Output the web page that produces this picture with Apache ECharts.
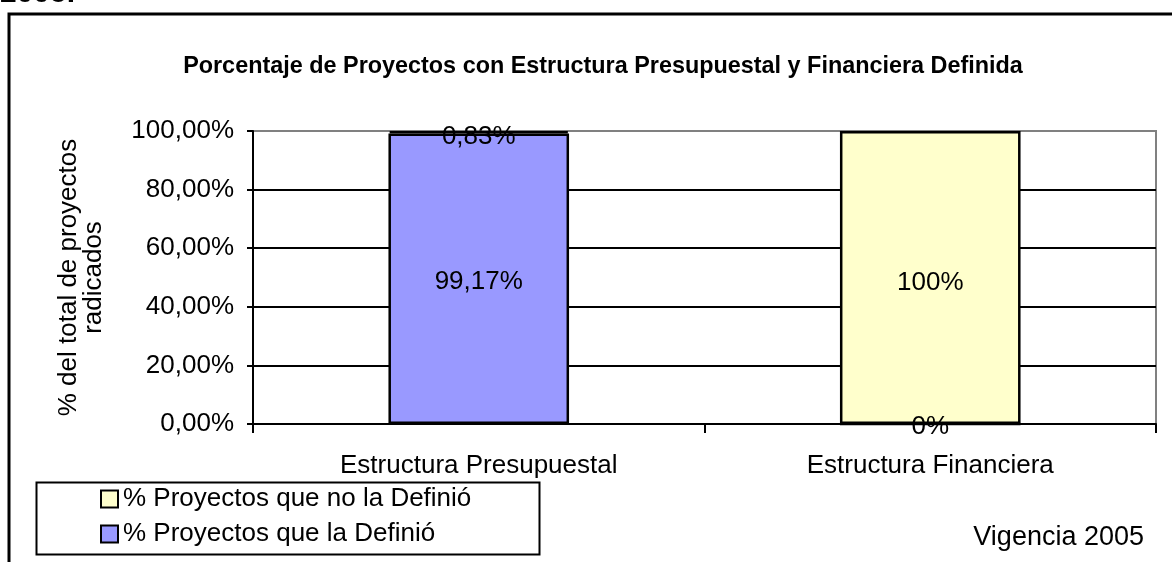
<!DOCTYPE html>
<html>
<head>
<meta charset="utf-8">
<script src="https://cdn.jsdelivr.net/npm/echarts@6/dist/echarts.min.js"></script>
<style>
  html, body { margin: 0; padding: 0; background: #ffffff; }
  #chart { width: 1172px; height: 562px; }
</style>
</head>
<body>
<div id="chart"></div>
<script>
// Chart data
const categories = ['Estructura Presupuestal', 'Estructura Financiera'];
const definedValues = [99.17, 0];      // % Proyectos que la Definió
const notDefinedValues = [0.83, 100];  // % Proyectos que no la Definió
const seriesNames = ['% Proyectos que la Definió', '% Proyectos que no la Definió'];
const yTicks = [0, 20, 40, 60, 80, 100];

const FONT = '"Liberation Sans", Arial, sans-serif';

function pct(v) {
  return String(v).replace('.', ',') + '%';
}

const chart = echarts.init(document.getElementById('chart'), null, { renderer: 'canvas' });

const barLabel = {
  show: true,
  position: 'inside',
  color: '#000',
  fontFamily: FONT,
  fontSize: 26,
  formatter: p => pct(p.value)
};

chart.setOption({
  animation: false,
  backgroundColor: '#ffffff',
  title: {
    text: 'Porcentaje de Proyectos con Estructura Presupuestal y Financiera Definida',
    left: 598,
    textAlign: 'center',
    top: 50,
    textStyle: { fontFamily: FONT, fontSize: 23.4, fontWeight: 'bold', color: '#000' }
  },
  grid: {
    left: 253, right: 16, top: 131, bottom: 138,
    show: true, borderColor: '#808080', borderWidth: 2, backgroundColor: 'transparent'
  },
  legend: {
    orient: 'vertical',
    left: 100,
    top: 486,
    padding: 0,
    height: 80,
    itemWidth: 17,
    itemHeight: 17,
    itemGap: 9,
    icon: 'rect',
    data: [seriesNames[1], seriesNames[0]],
    itemStyle: { borderColor: '#000', borderWidth: 2 },
    textStyle: { fontFamily: FONT, fontSize: 26, color: '#000' }
  },
  xAxis: {
    type: 'category',
    data: categories,
    axisLine: { lineStyle: { color: '#000', width: 2 } },
    axisTick: { show: true, length: 9, lineStyle: { color: '#000', width: 2 } },
    axisLabel: { color: '#000', fontFamily: FONT, fontSize: 26, margin: 29 }
  },
  yAxis: {
    type: 'value',
    min: yTicks[0],
    max: yTicks[yTicks.length - 1],
    interval: 20,
    name: '% del total de proyectos\nradicados',
    nameLocation: 'middle',
    nameRotate: 90,
    nameGap: 147,
    nameTextStyle: { fontFamily: FONT, fontSize: 26, color: '#000', lineHeight: 25 },
    axisLine: { show: true, lineStyle: { color: '#000', width: 2 } },
    axisTick: { show: true, length: 6, lineStyle: { color: '#000', width: 2 } },
    axisLabel: {
      color: '#000', fontFamily: FONT, fontSize: 26, margin: 19,
      formatter: v => v.toFixed(2).replace('.', ',') + '%'
    },
    splitLine: {
      show: true,
      lineStyle: { color: ['#000', '#000', '#000', '#000', '#000', '#808080'], width: 2 }
    }
  },
  series: [
    {
      name: seriesNames[0],
      type: 'bar',
      stack: 'total',
      barWidth: '40%',
      data: definedValues,
      itemStyle: { color: '#9999FF', borderColor: '#000', borderWidth: 2.5 },
      label: Object.assign({}, barLabel, { offset: [0, 3] })
    },
    {
      name: seriesNames[1],
      type: 'bar',
      stack: 'total',
      barWidth: '40%',
      data: notDefinedValues,
      itemStyle: { color: '#FFFFCC', borderColor: '#000', borderWidth: 2.5 },
      label: Object.assign({}, barLabel, { offset: [0, 5] })
    }
  ],
  graphic: [
    {
      type: 'text',
      left: 0,
      top: -21,
      style: { text: '2005.', fontFamily: FONT, fontSize: 30, fontWeight: 'bold', fill: '#000' }
    },
    {
      type: 'rect',
      shape: { x: 9, y: 14, width: 1300, height: 700 },
      style: { fill: 'none', stroke: '#000', lineWidth: 3 },
      silent: true
    },
    {
      type: 'rect',
      shape: { x: 36.5, y: 482.5, width: 503, height: 72 },
      style: { fill: 'none', stroke: '#000', lineWidth: 2 },
      silent: true,
      z: 10
    },
    {
      type: 'text',
      right: 28,
      top: 524,
      style: { text: 'Vigencia 2005', fontFamily: FONT, fontSize: 27, fill: '#000' }
    }
  ]
});
</script>
</body>
</html>
